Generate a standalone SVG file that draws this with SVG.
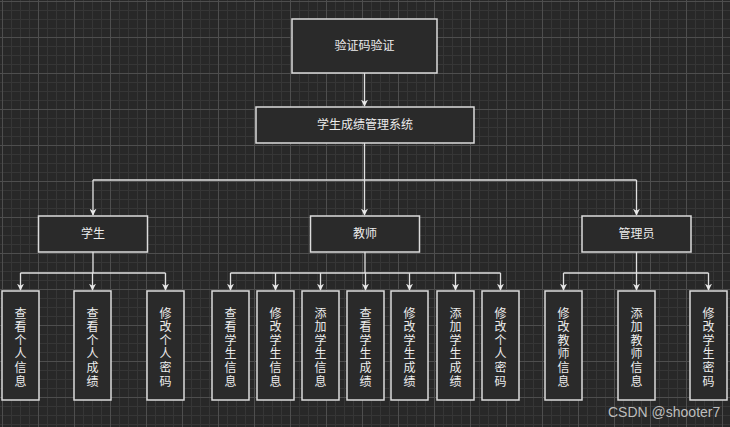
<svg xmlns="http://www.w3.org/2000/svg" width="730" height="427" viewBox="0 0 730 427">
<defs>
<pattern id="minor" width="9" height="9" patternUnits="userSpaceOnUse" x="2" y="1">
<path d="M0 0.5H9M0.5 0V9" stroke="#363636" stroke-width="1" fill="none"/>
</pattern>
<pattern id="major" width="36" height="36" patternUnits="userSpaceOnUse" x="2" y="1">
<path d="M0 0.5H36M0.5 0V36" stroke="#4e4e4e" stroke-width="1" fill="none"/>
</pattern>
<marker id="arr" viewBox="0 0 10 10" refX="9" refY="5" markerWidth="7" markerHeight="7" markerUnits="userSpaceOnUse" orient="auto">
<path d="M0 0L10 5L0 10L3 5Z" fill="#e8e8e8"/>
</marker>
<style>
.box{fill:#2a2a2a;stroke:#dcdcdc;stroke-width:1.5}
.t{font-family:"Noto Sans CJK SC","Noto Sans",sans-serif;font-size:12px;fill:#ececec;text-anchor:middle}
.c{fill:none;stroke:#e0e0e0;stroke-width:1.3}
.a{marker-end:url(#arr)}
</style>
</defs>
<rect width="730" height="427" fill="#282828"/>
<rect width="730" height="427" fill="url(#minor)"/>
<rect width="730" height="427" fill="url(#major)"/>

<g id="connectors">
<path class="c a" d="M364.5 73V106"/>
<path class="c a" d="M364.5 143V215"/>
<path class="c" d="M93 180H636.5"/>
<path class="c a" d="M93 180V215"/>
<path class="c a" d="M636.5 180V215"/>
<path class="c" d="M93 252V273"/>
<path class="c" d="M20.5 273H165.5"/>
<path class="c a" d="M20.5 273V290"/>
<path class="c a" d="M92.5 273V290"/>
<path class="c a" d="M165.5 273V290"/>
<path class="c" d="M365 252V273"/>
<path class="c" d="M230.5 273H500.5"/>
<path class="c a" d="M230.5 273V290"/>
<path class="c a" d="M275.5 273V290"/>
<path class="c a" d="M320.5 273V290"/>
<path class="c a" d="M365.5 273V290"/>
<path class="c a" d="M409.5 273V290"/>
<path class="c a" d="M455.5 273V290"/>
<path class="c a" d="M500.5 273V290"/>
<path class="c" d="M636.5 252V273"/>
<path class="c" d="M563.5 273H708.5"/>
<path class="c a" d="M563.5 273V290"/>
<path class="c a" d="M636.5 273V290"/>
<path class="c a" d="M708.5 273V290"/>
</g>

<g id="captcha"><rect class="box" x="292" y="19" width="145" height="54"/><text class="t" x="364.5" y="50">验证码验证</text></g>
<g id="system"><rect class="box" x="256" y="107" width="218" height="36"/><text class="t" x="365" y="129">学生成绩管理系统</text></g>
<g id="student"><rect class="box" x="38.5" y="216" width="109" height="36"/><text class="t" x="93" y="238">学生</text></g>
<g id="teacher"><rect class="box" x="310.5" y="216" width="109" height="36"/><text class="t" x="365" y="238">教师</text></g>
<g id="admin"><rect class="box" x="582" y="216" width="109" height="36"/><text class="t" x="636.5" y="238">管理员</text></g>

<g id="s1"><rect class="box" x="2" y="291" width="37" height="109"/><text class="t" y="317.5"><tspan x="20.5">查</tspan><tspan x="20.5" dy="13.6">看</tspan><tspan x="20.5" dy="13.6">个</tspan><tspan x="20.5" dy="13.6">人</tspan><tspan x="20.5" dy="13.6">信</tspan><tspan x="20.5" dy="13.6">息</tspan></text></g>
<g id="s2"><rect class="box" x="74" y="291" width="37" height="109"/><text class="t" y="317.5"><tspan x="92.5">查</tspan><tspan x="92.5" dy="13.6">看</tspan><tspan x="92.5" dy="13.6">个</tspan><tspan x="92.5" dy="13.6">人</tspan><tspan x="92.5" dy="13.6">成</tspan><tspan x="92.5" dy="13.6">绩</tspan></text></g>
<g id="s3"><rect class="box" x="147" y="291" width="37" height="109"/><text class="t" y="317.5"><tspan x="165.5">修</tspan><tspan x="165.5" dy="13.6">改</tspan><tspan x="165.5" dy="13.6">个</tspan><tspan x="165.5" dy="13.6">人</tspan><tspan x="165.5" dy="13.6">密</tspan><tspan x="165.5" dy="13.6">码</tspan></text></g>

<g id="t1"><rect class="box" x="212" y="291" width="37" height="109"/><text class="t" y="317.5"><tspan x="230.5">查</tspan><tspan x="230.5" dy="13.6">看</tspan><tspan x="230.5" dy="13.6">学</tspan><tspan x="230.5" dy="13.6">生</tspan><tspan x="230.5" dy="13.6">信</tspan><tspan x="230.5" dy="13.6">息</tspan></text></g>
<g id="t2"><rect class="box" x="257" y="291" width="37" height="109"/><text class="t" y="317.5"><tspan x="275.5">修</tspan><tspan x="275.5" dy="13.6">改</tspan><tspan x="275.5" dy="13.6">学</tspan><tspan x="275.5" dy="13.6">生</tspan><tspan x="275.5" dy="13.6">信</tspan><tspan x="275.5" dy="13.6">息</tspan></text></g>
<g id="t3"><rect class="box" x="302" y="291" width="37" height="109"/><text class="t" y="317.5"><tspan x="320.5">添</tspan><tspan x="320.5" dy="13.6">加</tspan><tspan x="320.5" dy="13.6">学</tspan><tspan x="320.5" dy="13.6">生</tspan><tspan x="320.5" dy="13.6">信</tspan><tspan x="320.5" dy="13.6">息</tspan></text></g>
<g id="t4"><rect class="box" x="347" y="291" width="37" height="109"/><text class="t" y="317.5"><tspan x="365.5">查</tspan><tspan x="365.5" dy="13.6">看</tspan><tspan x="365.5" dy="13.6">学</tspan><tspan x="365.5" dy="13.6">生</tspan><tspan x="365.5" dy="13.6">成</tspan><tspan x="365.5" dy="13.6">绩</tspan></text></g>
<g id="t5"><rect class="box" x="391" y="291" width="37" height="109"/><text class="t" y="317.5"><tspan x="409.5">修</tspan><tspan x="409.5" dy="13.6">改</tspan><tspan x="409.5" dy="13.6">学</tspan><tspan x="409.5" dy="13.6">生</tspan><tspan x="409.5" dy="13.6">成</tspan><tspan x="409.5" dy="13.6">绩</tspan></text></g>
<g id="t6"><rect class="box" x="437" y="291" width="37" height="109"/><text class="t" y="317.5"><tspan x="455.5">添</tspan><tspan x="455.5" dy="13.6">加</tspan><tspan x="455.5" dy="13.6">学</tspan><tspan x="455.5" dy="13.6">生</tspan><tspan x="455.5" dy="13.6">成</tspan><tspan x="455.5" dy="13.6">绩</tspan></text></g>
<g id="t7"><rect class="box" x="482" y="291" width="37" height="109"/><text class="t" y="317.5"><tspan x="500.5">修</tspan><tspan x="500.5" dy="13.6">改</tspan><tspan x="500.5" dy="13.6">个</tspan><tspan x="500.5" dy="13.6">人</tspan><tspan x="500.5" dy="13.6">密</tspan><tspan x="500.5" dy="13.6">码</tspan></text></g>

<g id="a1"><rect class="box" x="545" y="291" width="37" height="109"/><text class="t" y="317.5"><tspan x="563.5">修</tspan><tspan x="563.5" dy="13.6">改</tspan><tspan x="563.5" dy="13.6">教</tspan><tspan x="563.5" dy="13.6">师</tspan><tspan x="563.5" dy="13.6">信</tspan><tspan x="563.5" dy="13.6">息</tspan></text></g>
<g id="a2"><rect class="box" x="618" y="291" width="37" height="109"/><text class="t" y="317.5"><tspan x="636.5">添</tspan><tspan x="636.5" dy="13.6">加</tspan><tspan x="636.5" dy="13.6">教</tspan><tspan x="636.5" dy="13.6">师</tspan><tspan x="636.5" dy="13.6">信</tspan><tspan x="636.5" dy="13.6">息</tspan></text></g>
<g id="a3"><rect class="box" x="690" y="291" width="37" height="109"/><text class="t" y="317.5"><tspan x="708.5">修</tspan><tspan x="708.5" dy="13.6">改</tspan><tspan x="708.5" dy="13.6">学</tspan><tspan x="708.5" dy="13.6">生</tspan><tspan x="708.5" dy="13.6">密</tspan><tspan x="708.5" dy="13.6">码</tspan></text></g>

<text x="608" y="417" font-family="Liberation Sans, Arial, sans-serif" font-size="14" fill="#bdbdbd">CSDN @shooter7</text>
</svg>
